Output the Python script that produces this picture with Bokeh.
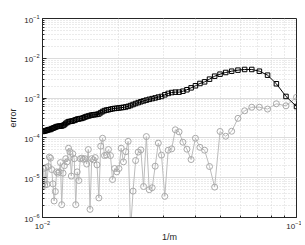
from bokeh.plotting import figure
from bokeh.models import FixedTicker, LogTickFormatter, Range1d
from bokeh.embed import file_html
from bokeh.resources import INLINE

# m runs from 100 down to 10; x = 1/m
m_values = list(range(100, 9, -1))

square_err = [
    1.45e-4, 1.48e-4, 1.50e-4, 1.52e-4, 1.55e-4, 1.60e-4, 1.62e-4, 1.63e-4, 1.70e-4, 1.75e-4,  # 100-91
    1.80e-4, 1.86e-4, 1.92e-4, 1.95e-4, 1.97e-4, 1.98e-4, 2.00e-4, 2.05e-4, 2.15e-4, 2.30e-4,  # 90-81
    2.45e-4, 2.55e-4, 2.60e-4, 2.62e-4, 2.68e-4, 2.75e-4, 2.85e-4, 2.95e-4, 3.00e-4, 3.05e-4,  # 80-71
    3.10e-4, 3.20e-4, 3.35e-4, 3.45e-4, 3.55e-4, 3.65e-4, 3.75e-4, 3.80e-4, 3.85e-4, 3.90e-4,  # 70-61
    4.00e-4, 4.30e-4, 4.60e-4, 4.85e-4, 5.00e-4, 5.10e-4, 5.25e-4, 5.40e-4, 5.50e-4, 5.55e-4,  # 60-51
    5.65e-4, 5.75e-4, 5.85e-4, 6.00e-4, 6.20e-4, 6.50e-4, 6.90e-4, 7.30e-4, 7.70e-4, 8.10e-4,  # 50-41
    8.50e-4, 8.90e-4, 9.30e-4, 9.70e-4, 1.01e-3, 1.06e-3, 1.10e-3, 1.21e-3, 1.31e-3, 1.38e-3,  # 40-31
    1.41e-3, 1.41e-3, 1.49e-3, 1.62e-3, 1.81e-3, 2.04e-3, 2.33e-3, 2.56e-3, 2.99e-3, 3.55e-3,  # 30-21
    3.99e-3, 4.40e-3, 4.74e-3, 5.04e-3, 5.24e-3, 5.24e-3, 4.74e-3, 3.77e-3, 2.29e-3, 1.10e-3,  # 20-11
    6.15e-4,                                                                                    # 10
]

circle_err = [
    6.4e-6, 1.7e-5, 6.5e-6, 1.8e-5, 6.8e-6, 1.9e-5, 3.3e-5, 3.1e-5, 1.6e-5, 7.0e-6,  # 100-91
    2.6e-6, 4.5e-6, 1.4e-5, 1.3e-5, 1.4e-5, 2.4e-5, 2.1e-6, 1.3e-5, 2.0e-5, 3.0e-5,  # 90-81
    2.5e-5, 5.5e-5, 4.5e-5, 1.1e-5, 4.0e-5, 3.0e-5, 2.1e-6, 1.4e-5, 8.5e-6, 3.0e-5,  # 80-71
    3.1e-5, 2.9e-5, 3.0e-5, 2.2e-5, 5.1e-5, 1.6e-6, 3.0e-5, 2.8e-5, 3.2e-5, 2.1e-5,  # 70-61
    3.1e-6, 6.2e-5, 9.8e-5, 3.6e-5, 3.7e-5, 5.1e-5, 3.6e-5, 9.0e-6, 1.7e-5, 1.4e-5,  # 60-51
    1.7e-5, 5.5e-5, 2.5e-5, 4.5e-5, 8.2e-5, 5.0e-7, 4.6e-6, 2.7e-5, 4.4e-5, 5.0e-5,  # 50-41
    6.0e-6, 1.08e-4, 5.0e-6, 5.6e-6, 1.95e-5, 7.4e-5, 3.7e-5, 3.4e-6, 4.9e-5, 5.3e-5,  # 40-31
    1.6e-4, 1.42e-4, 7.8e-5, 5.2e-5, 2.86e-5, 9.8e-5, 5.8e-5, 4.9e-5, 1.91e-5, 5.8e-6,  # 30-21
    1.45e-4, 1.1e-4, 1.47e-4, 3.1e-4, 4.8e-4, 5.9e-4, 5.9e-4, 5.3e-4, 7.2e-4, 6.4e-4,  # 20-11
    1.05e-3,                                                                          # 10
]

x_major = [1e-2, 1e-1]
y_major = [1e-6, 1e-5, 1e-4, 1e-3, 1e-2, 1e-1]
mantissa_minor = [2, 3, 4, 5, 6, 7, 8, 9]

x_vals = [1.0 / m for m in m_values]
x_minor = [k * d for d in x_major[:-1] for k in mantissa_minor]
y_minor = [k * d for d in y_major[:-1] for k in mantissa_minor]

FONT = "Liberation Sans"
p = figure(x_axis_type="log", y_axis_type="log",
           x_range=Range1d(1e-2, 1e-1), y_range=Range1d(1e-6, 1e-1),
           output_backend="svg", toolbar_location=None,
           frame_width=254, frame_height=199,
           min_border_left=42, min_border_right=5, min_border_top=18, min_border_bottom=20)

p.background_fill_color = "white"
p.border_fill_color = "white"
p.outline_line_color = "#262626"
p.outline_line_width = 1

p.xaxis.ticker = FixedTicker(ticks=x_major, minor_ticks=x_minor)
p.yaxis.ticker = FixedTicker(ticks=y_major, minor_ticks=y_minor)
p.xaxis.formatter = LogTickFormatter()
p.yaxis.formatter = LogTickFormatter()

for g in (p.xgrid, p.ygrid):
    g.grid_line_color = "#dcdcdc"
    g.grid_line_width = 1
    g.minor_grid_line_color = "#d6d6d6"
    g.minor_grid_line_dash = "1 2"
    g.minor_grid_line_width = 1

for ax in (p.xaxis[0], p.yaxis[0]):
    ax.major_tick_in = 4
    ax.major_tick_out = 0
    ax.minor_tick_in = 2
    ax.minor_tick_out = 0
    ax.axis_line_color = "#262626"
    ax.major_tick_line_color = "#262626"
    ax.minor_tick_line_color = "#262626"
    ax.major_label_text_font = FONT
    ax.major_label_text_font_size = "8px"
    ax.major_label_text_color = "#262626"
    ax.axis_label_text_font = FONT
    ax.axis_label_text_font_size = "9px"
    ax.axis_label_text_font_style = "normal"
    ax.axis_label_text_color = "#262626"

p.xaxis.axis_label = "1/m"
p.yaxis.axis_label = "error"
p.xaxis.axis_label_standoff = 0
p.yaxis.axis_label_standoff = 3
p.xaxis.major_label_standoff = 3
p.yaxis.major_label_standoff = 3

p.line(x_vals, circle_err, line_color="#bcbcbc", line_width=1)
p.scatter(x_vals, circle_err, marker="circle", size=6, fill_color=None,
          line_color="#aaaaaa", line_width=1)

p.line(x_vals, square_err, line_color="black", line_width=1)
p.scatter(x_vals, square_err, marker="square", size=4.5, fill_color=None,
          line_color="black", line_width=1)

open("out.html", "w").write(file_html(p, INLINE))
